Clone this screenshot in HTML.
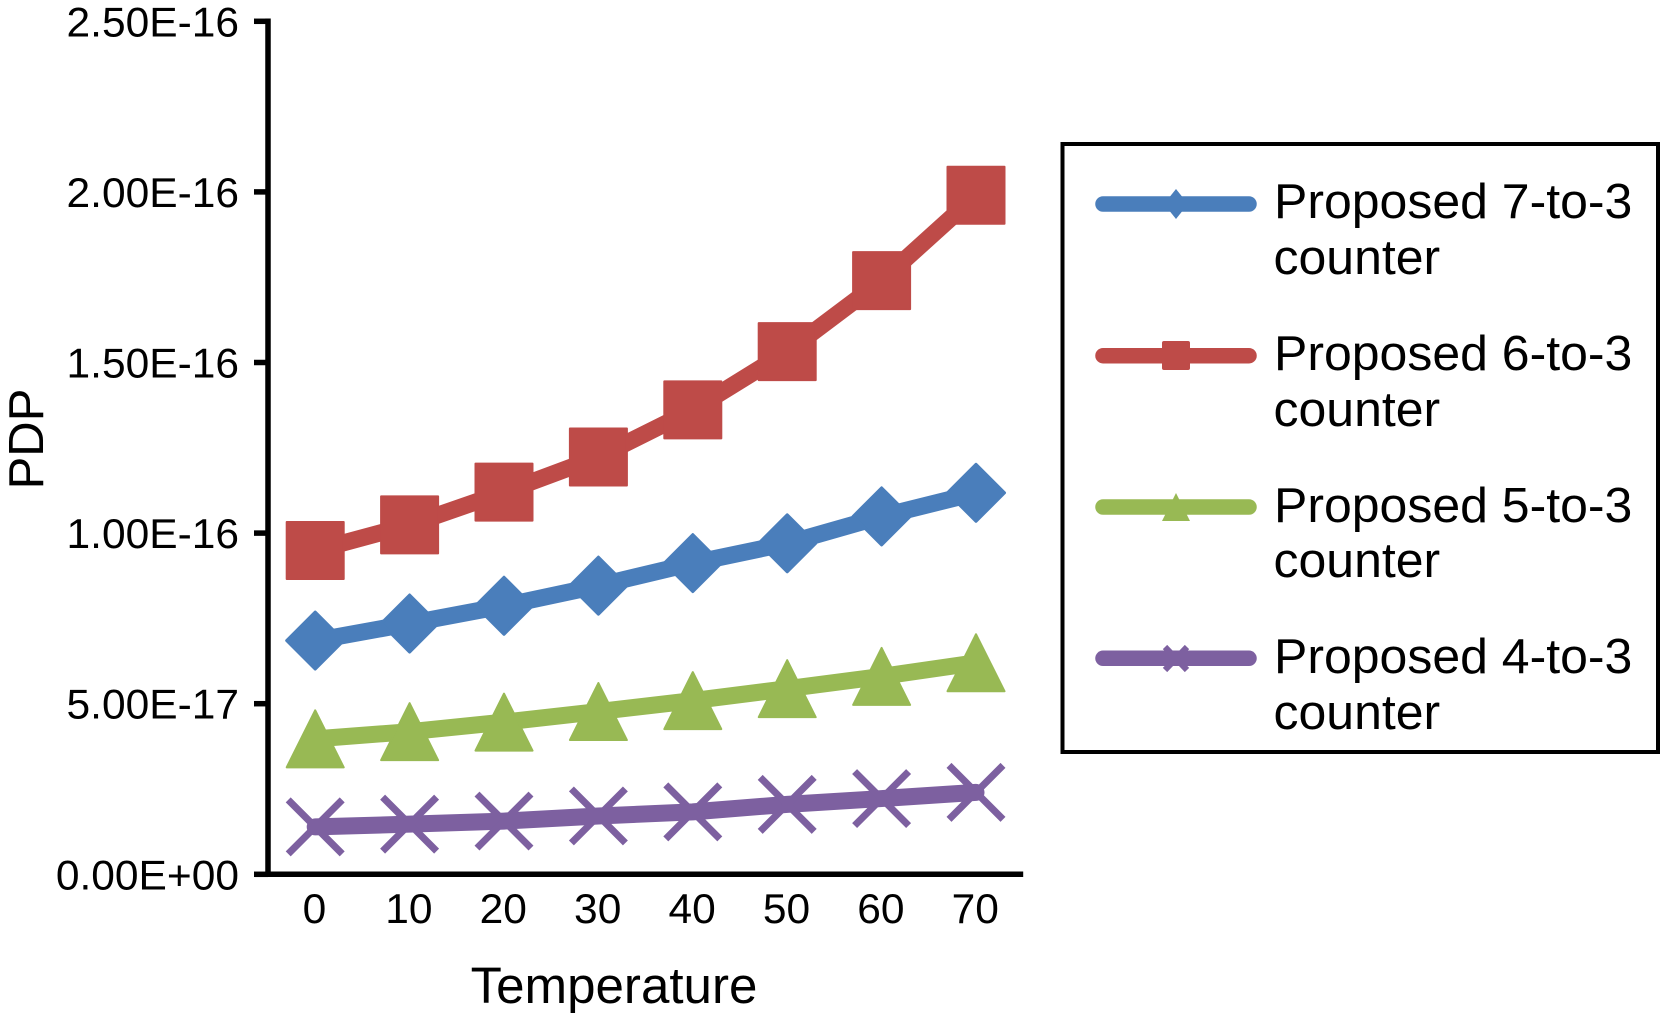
<!DOCTYPE html>
<html lang="en">
<head>
<meta charset="utf-8">
<title>PDP vs Temperature</title>
<style>
html,body{margin:0;padding:0;background:#fff;}
body{width:1660px;height:1013px;overflow:hidden;}
svg{display:block;}
text{font-family:"Liberation Sans",Arial,sans-serif;fill:#000;}
</style>
</head>
<body>
<svg id="chart" xmlns="http://www.w3.org/2000/svg" width="1660" height="1013" viewBox="0 0 1660 1013">
  <rect x="0" y="0" width="1660" height="1013" fill="#ffffff"/>
  <g id="axes"></g>
  <g id="series"></g>
  <text transform="translate(43,439) rotate(-90)" font-size="49" text-anchor="middle">PDP</text>
  <text x="614" y="1003" font-size="51.1" text-anchor="middle">Temperature</text>
  <g id="legend">
    <rect x="1062.5" y="144" width="595.5" height="608" fill="#ffffff" stroke="#000" stroke-width="4"/>
    <g>
      <line x1="1103" x2="1249" y1="204" y2="204" stroke="#4a7ebb" stroke-width="15.5" stroke-linecap="round"/>
      <polygon points="1176,189 1188,204 1176,219 1164,204" fill="#4a7ebb"/>
      <text transform="translate(1274,218) scale(1.02,1)" font-size="49">Proposed 7-to-3</text>
      <text transform="translate(1273.5,274) scale(1.02,1)" font-size="49">counter</text>
    </g>
    <g>
      <line x1="1103" x2="1249" y1="355.7" y2="355.7" stroke="#be4b48" stroke-width="15.5" stroke-linecap="round"/>
      <rect x="1162" y="341" width="28" height="29" rx="2" fill="#be4b48"/>
      <text transform="translate(1274,370) scale(1.02,1)" font-size="49">Proposed 6-to-3</text>
      <text transform="translate(1273.5,426) scale(1.02,1)" font-size="49">counter</text>
    </g>
    <g>
      <line x1="1103" x2="1249" y1="507" y2="507" stroke="#98b954" stroke-width="15.5" stroke-linecap="round"/>
      <polygon points="1176,493 1190,521 1162,521" fill="#98b954"/>
      <text transform="translate(1274,522) scale(1.02,1)" font-size="49">Proposed 5-to-3</text>
      <text transform="translate(1273.5,577) scale(1.02,1)" font-size="49">counter</text>
    </g>
    <g>
      <line x1="1103" x2="1249" y1="658.3" y2="658.3" stroke="#7d60a0" stroke-width="15.5" stroke-linecap="round"/>
      <path d="M1165,647 L1187,670 M1187,647 L1165,670" stroke="#7d60a0" stroke-width="6" fill="none"/>
      <text transform="translate(1274,673) scale(1.02,1)" font-size="49">Proposed 4-to-3</text>
      <text transform="translate(1273.5,729) scale(1.02,1)" font-size="49">counter</text>
    </g>
  </g>
</svg>
<script>
const temperatures = [0, 10, 20, 30, 40, 50, 60, 70];
const yTickValues = [0, 5e-17, 1e-16, 1.5e-16, 2e-16, 2.5e-16];
const yTickLabels = ["0.00E+00", "5.00E-17", "1.00E-16", "1.50E-16", "2.00E-16", "2.50E-16"];
const values7to3 = [6.85e-17, 7.35e-17, 7.87e-17, 8.46e-17, 9.12e-17, 9.70e-17, 1.049e-16, 1.118e-16];
const values6to3 = [9.49e-17, 1.024e-16, 1.12e-16, 1.223e-16, 1.361e-16, 1.532e-16, 1.74e-16, 1.99e-16];
const values5to3 = [3.97e-17, 4.18e-17, 4.46e-17, 4.77e-17, 5.09e-17, 5.44e-17, 5.80e-17, 6.20e-17];
const values4to3 = [1.39e-17, 1.47e-17, 1.56e-17, 1.71e-17, 1.83e-17, 2.05e-17, 2.22e-17, 2.40e-17];

const NS = 'http://www.w3.org/2000/svg';
const axisYMin = 0, axisYMax = 2.5e-16;
const plotBottom = 874.3, plotTop = 21.3, plotLeft = 268, bandWidth = 94.4;
function xScale(i) { return plotLeft + bandWidth * (i + 0.5); }
function yScale(v) { return plotBottom - (v - axisYMin) / (axisYMax - axisYMin) * (plotBottom - plotTop); }
function make(tag, parent, attrs) {
  const el = document.createElementNS(NS, tag);
  for (const k in attrs) el.setAttribute(k, attrs[k]);
  parent.appendChild(el);
  return el;
}

const axes = document.getElementById('axes');
const yAxisLine = make('line', axes, {x1: plotLeft, x2: plotLeft, y1: plotTop - 2.75, y2: plotBottom + 2.75, stroke: '#000', 'stroke-width': 5.5});


const xAxisLine = make('line', axes, {x1: plotLeft - 2.75, x2: plotLeft + bandWidth * temperatures.length, y1: plotBottom, y2: plotBottom, stroke: '#000', 'stroke-width': 5.5});



yTickValues.forEach(function (v, i) {
  const tick = make('line', axes, {x1: 254, x2: plotLeft, y1: yScale(v), y2: yScale(v), stroke: '#000', 'stroke-width': 5.5});
  
  
  const label = make('text', axes, {transform: 'translate(239,' + (yScale(v) + 15) + ') scale(1.012,1)', 'font-size': 42, 'text-anchor': 'end'});
  label.textContent = yTickLabels[i];
  
  
});
temperatures.forEach(function (t, i) {
  const label = make('text', axes, {transform: 'translate(' + (xScale(i) - 0.7) + ',923) scale(1.012,1)', 'font-size': 42, 'text-anchor': 'middle'});
  label.textContent = String(t);
  
  
});

const seriesRoot = document.getElementById('series');
const R = 28.5;
function drawSeries(name, values, color, shape) {
  const group = make('g', seriesRoot, {});
  
  
  const pts = values.map(function (v, i) { return xScale(i) + ',' + yScale(v); }).join(' ');
  const line = make('polyline', group, {points: pts, fill: 'none', stroke: color, 'stroke-width': 17, 'stroke-linejoin': 'round', 'stroke-linecap': 'round'});
  
  
  values.forEach(function (v, i) {
    const x = xScale(i), y = yScale(v);
    let m;
    if (shape === 'diamond') {
      m = make('polygon', group, {points: [x, y - R, x + R, y, x, y + R, x - R, y].join(' '), fill: color, stroke: color, 'stroke-width': 3, 'stroke-linejoin': 'round'});
    } else if (shape === 'square') {
      m = make('rect', group, {x: x - R, y: y - R, width: 2 * R, height: 2 * R, fill: color, stroke: color, 'stroke-width': 2, 'stroke-linejoin': 'round'});
    } else if (shape === 'triangle') {
      m = make('polygon', group, {points: [x, y - R, x + R, y + R, x - R, y + R].join(' '), fill: color, stroke: color, 'stroke-width': 2, 'stroke-linejoin': 'round'});
    } else {
      const a = 27;
      m = make('path', group, {d: 'M' + (x - a) + ',' + (y - a) + 'L' + (x + a) + ',' + (y + a) + 'M' + (x + a) + ',' + (y - a) + 'L' + (x - a) + ',' + (y + a), fill: 'none', stroke: color, 'stroke-width': 7});
    }
    
    
  });
}
drawSeries('7-to-3', values7to3, '#4a7ebb', 'diamond');
drawSeries('6-to-3', values6to3, '#be4b48', 'square');
drawSeries('5-to-3', values5to3, '#98b954', 'triangle');
drawSeries('4-to-3', values4to3, '#7d60a0', 'x');
</script>
</body>
</html>
